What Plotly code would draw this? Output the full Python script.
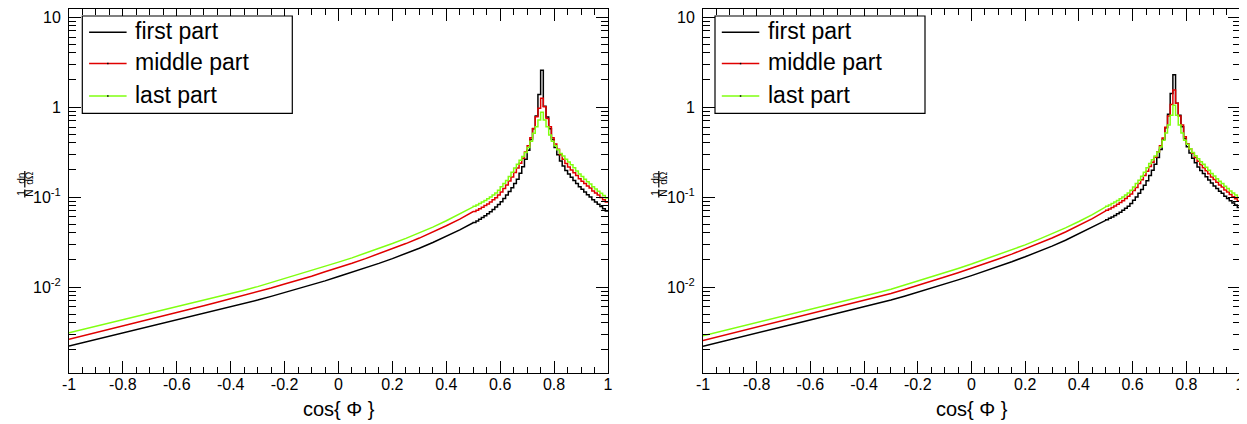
import plotly.graph_objects as go

# the page body adds an 8 px margin, so the figure is 8 px smaller than the window
PAGE_OFF = 8
W, H = 1247 - PAGE_OFF, 424 - PAGE_OFF

# ---------------- data ----------------
# smooth part of each histogram: values at x = -1.00, -0.95, ..., 0.50
SMOOTH_X = [round(-1 + 0.05 * i, 2) for i in range(31)]
# peak part: bins of width 0.01 from 0.50 to 1.00
STEP_EDGES = [round(0.50 + 0.01 * i, 2) for i in range(51)]

X_TICKS = [-1, -0.8, -0.6, -0.4, -0.2, 0, 0.2, 0.4, 0.6, 0.8, 1]
X_TICK_TEXT = ["-1", "-0.8", "-0.6", "-0.4", "-0.2", "0", "0.2", "0.4", "0.6", "0.8", "1"]
Y_TICKS = [0.01, 0.1, 1, 10]
Y_TICK_TEXT = ["10<sup>-2</sup>", "10<sup>-1</sup>", "1", "10"]

SERIES_NAMES = ["first part", "middle part", "last part"]
SERIES_COLORS = ["#000000", "#e00000", "#80ff10"]

# ---- left panel ----
L_FIRST_SMOOTH = [0.00221, 0.00240, 0.00261, 0.00284, 0.00308, 0.00335, 0.00364, 0.00395, 0.00430, 0.00467,
                  0.00507, 0.00551, 0.00600, 0.00655, 0.00716, 0.00787, 0.00867, 0.00957, 0.0106, 0.0117,
                  0.0131, 0.0146, 0.0163, 0.0183, 0.0207, 0.0235, 0.0270, 0.0312, 0.0365, 0.0432, 0.0518]
L_FIRST_STEP = [0.0522, 0.0543, 0.0566, 0.0592, 0.0619, 0.0650, 0.0685, 0.0726, 0.0773, 0.0826,
                0.0889, 0.0962, 0.105, 0.115, 0.127, 0.141, 0.158, 0.184, 0.217, 0.263,
                0.330, 0.437, 0.575, 0.794, 1.38, 2.57, 1.02, 0.776, 0.575, 0.437,
                0.355, 0.295, 0.251, 0.221, 0.197, 0.180, 0.166, 0.153, 0.141, 0.130,
                0.122, 0.114, 0.106, 0.100, 0.0933, 0.0881, 0.0832, 0.0785, 0.0741, 0.0700]

L_MIDDLE_SMOOTH = [0.00263, 0.00286, 0.00312, 0.00340, 0.00371, 0.00404, 0.00440, 0.00480, 0.00522, 0.00569,
                   0.00619, 0.00676, 0.00738, 0.00807, 0.00885, 0.00975, 0.0108, 0.0119, 0.0132, 0.0148,
                   0.0164, 0.0184, 0.0207, 0.0234, 0.0266, 0.0304, 0.0350, 0.0407, 0.0480, 0.0568, 0.0680]
L_MIDDLE_STEP = [0.0690, 0.0714, 0.0742, 0.0771, 0.0803, 0.0839, 0.0882, 0.0930, 0.0983, 0.105,
                 0.114, 0.124, 0.136, 0.151, 0.167, 0.187, 0.210, 0.237, 0.270, 0.316,
                 0.371, 0.457, 0.579, 0.780, 0.968, 1.25, 1.01, 0.748, 0.603, 0.457,
                 0.389, 0.339, 0.295, 0.263, 0.236, 0.216, 0.200, 0.186, 0.173, 0.160,
                 0.150, 0.141, 0.133, 0.126, 0.117, 0.111, 0.105, 0.0989, 0.0933, 0.0881]

L_LAST_SMOOTH = [0.00310, 0.00337, 0.00366, 0.00397, 0.00432, 0.00468, 0.00508, 0.00552, 0.00600, 0.00652,
                 0.00710, 0.00773, 0.00843, 0.00923, 0.0101, 0.0112, 0.0123, 0.0137, 0.0152, 0.0169,
                 0.0189, 0.0211, 0.0237, 0.0268, 0.0304, 0.0347, 0.0399, 0.0463, 0.0545, 0.0645, 0.0778]
L_LAST_STEP = [0.0790, 0.0818, 0.0848, 0.0880, 0.0916, 0.0955, 0.100, 0.105, 0.111, 0.119,
               0.130, 0.141, 0.153, 0.169, 0.188, 0.210, 0.232, 0.256, 0.282, 0.313,
               0.356, 0.417, 0.511, 0.604, 0.718, 0.873, 0.718, 0.604, 0.489, 0.417,
               0.372, 0.335, 0.305, 0.285, 0.263, 0.245, 0.228, 0.211, 0.195, 0.180,
               0.169, 0.158, 0.148, 0.140, 0.130, 0.123, 0.116, 0.110, 0.104, 0.0977]

# ---- right panel ----
R_FIRST_SMOOTH = [0.00220, 0.00240, 0.00261, 0.00284, 0.00308, 0.00335, 0.00364, 0.00395, 0.00430, 0.00467,
                  0.00507, 0.00551, 0.00600, 0.00655, 0.00716, 0.00790, 0.00873, 0.00968, 0.0108, 0.0120,
                  0.0134, 0.0150, 0.0169, 0.0191, 0.0217, 0.0248, 0.0285, 0.0331, 0.0390, 0.0462, 0.0551]
R_FIRST_STEP = [0.0560, 0.0580, 0.0601, 0.0624, 0.0650, 0.0678, 0.0711, 0.0749, 0.0792, 0.0845,
                0.0918, 0.100, 0.110, 0.121, 0.135, 0.152, 0.174, 0.199, 0.232, 0.275,
                0.338, 0.437, 0.589, 0.832, 1.41, 2.29, 1.10, 0.813, 0.603, 0.447,
                0.363, 0.309, 0.269, 0.240, 0.216, 0.197, 0.182, 0.168, 0.155, 0.143,
                0.133, 0.124, 0.116, 0.110, 0.102, 0.0966, 0.0912, 0.0861, 0.0813, 0.0767]

R_MIDDLE_SMOOTH = [0.00254, 0.00277, 0.00301, 0.00328, 0.00357, 0.00389, 0.00424, 0.00461, 0.00502, 0.00547,
                   0.00596, 0.00649, 0.00708, 0.00774, 0.00849, 0.00940, 0.0104, 0.0116, 0.0129, 0.0144,
                   0.0161, 0.0182, 0.0205, 0.0232, 0.0265, 0.0304, 0.0351, 0.0409, 0.0484, 0.0575, 0.0701]
R_MIDDLE_STEP = [0.0712, 0.0738, 0.0767, 0.0797, 0.0831, 0.0868, 0.0912, 0.0962, 0.102, 0.108,
                 0.118, 0.128, 0.141, 0.156, 0.173, 0.194, 0.218, 0.244, 0.277, 0.319,
                 0.371, 0.453, 0.596, 0.794, 1.07, 1.55, 1.10, 0.794, 0.631, 0.468,
                 0.391, 0.345, 0.306, 0.275, 0.249, 0.229, 0.212, 0.196, 0.181, 0.167,
                 0.157, 0.146, 0.136, 0.129, 0.120, 0.114, 0.107, 0.101, 0.0955, 0.0902]

R_LAST_SMOOTH = [0.00288, 0.00313, 0.00340, 0.00370, 0.00402, 0.00437, 0.00475, 0.00516, 0.00561, 0.00610,
                 0.00664, 0.00723, 0.00789, 0.00863, 0.00946, 0.0105, 0.0116, 0.0129, 0.0144, 0.0161,
                 0.0180, 0.0203, 0.0229, 0.0259, 0.0294, 0.0338, 0.0390, 0.0454, 0.0535, 0.0637, 0.0778]
R_LAST_STEP = [0.0790, 0.0818, 0.0848, 0.0880, 0.0916, 0.0955, 0.100, 0.105, 0.111, 0.119,
               0.129, 0.141, 0.154, 0.170, 0.189, 0.212, 0.236, 0.259, 0.286, 0.316,
               0.359, 0.427, 0.513, 0.631, 0.813, 1.05, 0.813, 0.631, 0.513, 0.427,
               0.385, 0.343, 0.313, 0.288, 0.266, 0.247, 0.231, 0.214, 0.198, 0.183,
               0.171, 0.160, 0.150, 0.141, 0.132, 0.124, 0.117, 0.111, 0.105, 0.0989]

PANELS = [
    [(L_FIRST_SMOOTH, L_FIRST_STEP), (L_MIDDLE_SMOOTH, L_MIDDLE_STEP), (L_LAST_SMOOTH, L_LAST_STEP)],
    [(R_FIRST_SMOOTH, R_FIRST_STEP), (R_MIDDLE_SMOOTH, R_MIDDLE_STEP), (R_LAST_SMOOTH, R_LAST_STEP)],
]

# ---------------- layout geometry (window pixels) ----------------
FONT = "Liberation Sans, Arial, sans-serif"
PANEL_X = [(69, 608), (703, 1240)]
PLOT_TOP, PLOT_BOTTOM = 9.3, 372.7


def fx(px):
    return (px - PAGE_OFF) / W


def fy(py):
    return 1 - (py - PAGE_OFF) / H


def build(smooth_vals, step_vals):
    xs = list(SMOOTH_X)
    ys = list(smooth_vals)
    for i, v in enumerate(step_vals):
        xs += [STEP_EDGES[i], STEP_EDGES[i + 1]]
        ys += [v, v]
    return xs, ys


fig = go.Figure()
for p, panel in enumerate(PANELS):
    xa = "x" if p == 0 else "x2"
    ya = "y" if p == 0 else "y2"
    for s, (sm, st) in enumerate(panel):
        xs, ys = build(sm, st)
        fig.add_trace(go.Scatter(x=xs, y=ys, mode="lines", xaxis=xa, yaxis=ya,
                                 name=SERIES_NAMES[s], showlegend=False,
                                 line=dict(color=SERIES_COLORS[s], width=1.5)))

y_minor = [k * 10 ** e for e in range(-3, 2) for k in range(2, 10)]
y_minor = [v for v in y_minor if 0.00112 < v < 12.1]
x_minor = [round(-1 + 0.05 * i, 2) for i in range(41)]

axis_common = dict(showline=True, linecolor="black", linewidth=1, mirror="allticks",
                   ticks="inside", tickcolor="black", tickwidth=1, showgrid=False, zeroline=False,
                   automargin=False, ticklabeloverflow="allow",
                   tickfont=dict(family=FONT, size=16, color="black"))

layout = dict(width=W, height=H, autosize=False, margin=dict(l=0, r=0, t=0, b=0, pad=0),
              paper_bgcolor="white", plot_bgcolor="white", showlegend=False,
              font=dict(family=FONT, color="black"))

for p in range(2):
    suffix = "" if p == 0 else "2"
    x0, x1 = PANEL_X[p]
    layout["xaxis" + suffix] = dict(axis_common, domain=[fx(x0), fx(x1)], range=[-1, 1],
                                    tickvals=X_TICKS, ticktext=X_TICK_TEXT, ticklen=12,
                                    ticklabelstandoff=-3,
                                    minor=dict(tickvals=x_minor, ticks="inside", ticklen=6,
                                               tickcolor="black", showgrid=False),
                                    anchor="y" + suffix)
    layout["yaxis" + suffix] = dict(axis_common, type="log", domain=[fy(PLOT_BOTTOM), fy(PLOT_TOP)],
                                    range=[-2.952, 1.086], tickvals=Y_TICKS, ticktext=Y_TICK_TEXT,
                                    ticklen=12, ticklabelstandoff=4,
                                    minor=dict(tickvals=y_minor, ticks="inside", ticklen=7,
                                               tickcolor="black", showgrid=False),
                                    anchor="x" + suffix)

fig.update_layout(**layout)

shapes = []
annotations = []
for p in range(2):
    off = 0 if p == 0 else 634
    # x title
    annotations.append(dict(xref="paper", yref="paper", x=fx((PANEL_X[p][0] + PANEL_X[p][1]) / 2), y=fy(409),
                            text="cos{ Φ }", showarrow=False, xanchor="center", yanchor="middle",
                            font=dict(family=FONT, size=20, color="black")))
    # y title: 1/N dn/dOmega (rotated)
    for txt, cx, cy in [("dn", 20.8, 178), ("dΩ", 28.8, 178), ("1", 20.8, 193), ("N", 28.8, 193)]:
        annotations.append(dict(xref="paper", yref="paper", x=fx(cx + off), y=fy(cy), text=txt,
                                showarrow=False, textangle=-90, xanchor="center", yanchor="middle",
                                font=dict(family=FONT, size=10, color="black")))
    for ya0, ya1 in [(171.0, 187.5), (189.5, 197.5)]:
        shapes.append(dict(type="line", xref="paper", yref="paper", x0=fx(24.8 + off), x1=fx(24.8 + off),
                           y0=fy(ya0), y1=fy(ya1), line=dict(color="black", width=1.2)))
    # legend box
    bx0 = 82.3 + off * 1.0 + (0 if p == 0 else -1.3)
    shapes.append(dict(type="rect", xref="paper", yref="paper", x0=fx(bx0), x1=fx(bx0 + 210),
                       y0=fy(16), y1=fy(113.3), line=dict(color="black", width=1.2), fillcolor="white",
                       layer="above"))
    for s, rowy in enumerate([32.3, 63.6, 96.0]):
        sx0 = bx0 + 6.8
        shapes.append(dict(type="line", xref="paper", yref="paper", x0=fx(sx0), x1=fx(sx0 + 37.5),
                           y0=fy(rowy), y1=fy(rowy), line=dict(color=SERIES_COLORS[s], width=1.5),
                           layer="above"))
        if s > 0:
            shapes.append(dict(type="line", xref="paper", yref="paper", x0=fx(sx0 + 18), x1=fx(sx0 + 19.5),
                               y0=fy(rowy), y1=fy(rowy), line=dict(color="black", width=1.5),
                               layer="above"))
        annotations.append(dict(xref="paper", yref="paper", x=fx(bx0 + 50.5), y=fy(rowy - 1.5),
                                text=SERIES_NAMES[s], showarrow=False, xanchor="left", yanchor="middle",
                                font=dict(family=FONT, size=23, color="black")))

fig.update_layout(shapes=shapes, annotations=annotations)
fig.write_html("out.html")
